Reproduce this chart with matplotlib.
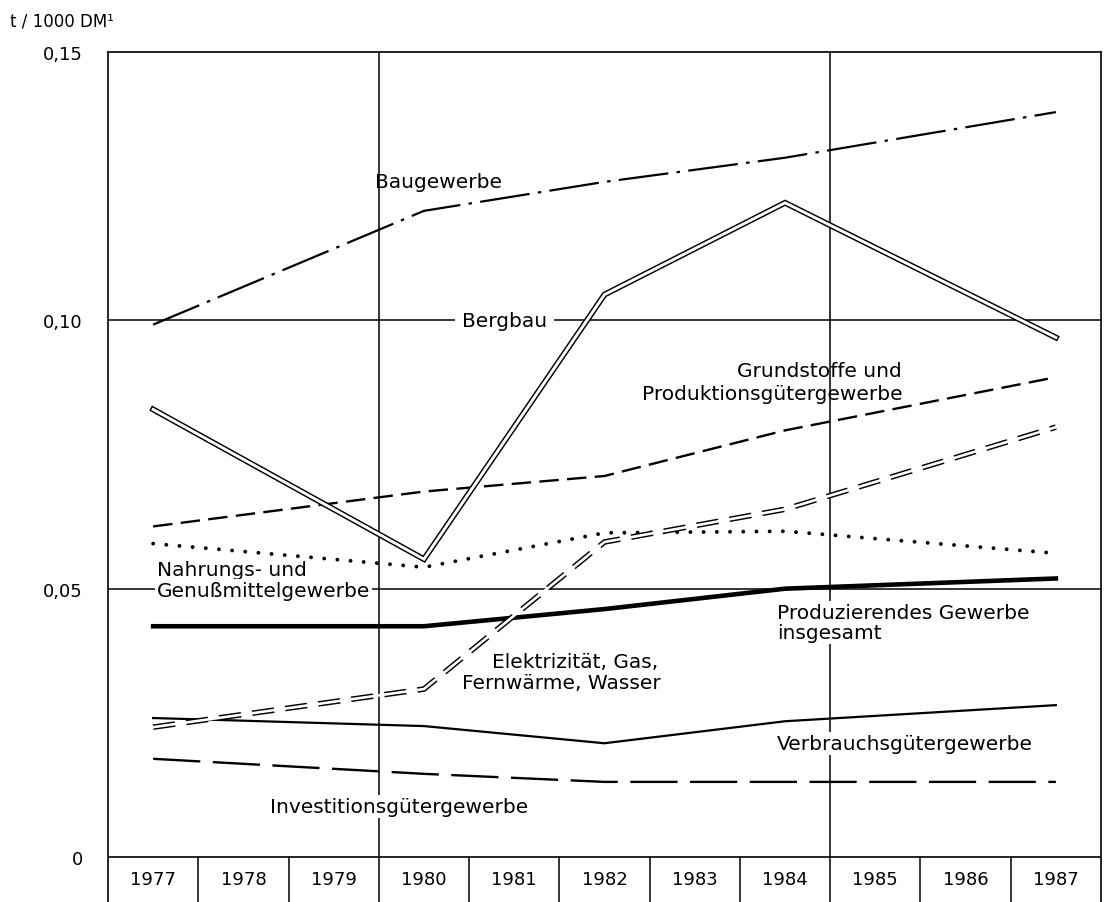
import matplotlib
matplotlib.use("Agg")
import matplotlib.pyplot as plt

plt.rcParams['font.family'] = ['DejaVu Sans']
plt.rcParams['lines.scale_dashes'] = False

# ---- data ----
years = [1977, 1980, 1982, 1984, 1987]
year_labels = [1977, 1978, 1979, 1980, 1981, 1982, 1983, 1984, 1985, 1986, 1987]
baugewerbe = [0.0992, 0.1204, 0.1258, 0.1303, 0.1388]
bergbau = [0.0834, 0.0555, 0.1048, 0.1219, 0.0968]
grundstoffe = [0.0616, 0.0681, 0.0710, 0.0795, 0.0894]
nahrung = [0.0584, 0.0540, 0.0604, 0.0607, 0.0566]
elektrizitaet = [0.0242, 0.0313, 0.0587, 0.0648, 0.0801]
insgesamt = [0.0430, 0.0430, 0.0462, 0.0500, 0.0519]
verbrauch = [0.0259, 0.0244, 0.0212, 0.0253, 0.0283]
investition = [0.0183, 0.0155, 0.0140, 0.0140, 0.0140]
ytick_vals = [0, 0.05, 0.10, 0.15]
ytick_labels = ['0', '0,05', '0,10', '0,15']

W, H = 1111, 903
fig = plt.figure(figsize=(W / 100, H / 100), dpi=100)
ax = fig.add_axes([108 / W, 0, (1101 - 108) / W, (903 - 53) / H])
ymin = -0.00838
ax.set_xlim(1976.5, 1987.5)
ax.set_ylim(ymin, 0.15)

for s in ['left', 'right', 'top']:
    ax.spines[s].set_linewidth(1.2)
ax.spines['bottom'].set_visible(False)

ax.set_xticks([])
ax.set_yticks(ytick_vals)
ax.set_yticklabels(ytick_labels, fontsize=13)
ax.tick_params(axis='y', length=0, pad=18)

# grid lines
for v in [0.05, 0.10]:
    ax.axhline(v, color='black', lw=1.1, zorder=1)
ax.axhline(0, color='black', lw=1.2, zorder=1)
for xb in [1979.5, 1984.5]:
    ax.plot([xb, xb], [0, 0.15], color='black', lw=1.1, zorder=1)
# year boxes
for y in year_labels[:-1]:
    ax.plot([y + 0.5, y + 0.5], [ymin, 0], color='black', lw=1.1, zorder=1)
for y in year_labels:
    ax.text(y, -0.0041, str(y), ha='center', va='center', fontsize=13)

# ---- series ----
# Baugewerbe: dash-dot
ax.plot(years, baugewerbe, color='black', lw=1.6,
        linestyle=(0, (36, 6, 2.5, 6)), zorder=3)
# Bergbau: double solid line
ax.plot(years, bergbau, color='black', lw=4.2, solid_joinstyle='miter', zorder=3)
ax.plot(years, bergbau, color='white', lw=2.1, solid_joinstyle='miter', zorder=3.1)
# Grundstoffe: dashed
ax.plot(years, grundstoffe, color='black', lw=1.7,
        linestyle=(0, (14, 6)), zorder=3)
# Nahrungs: dotted
ax.plot(years, nahrung, color='black', lw=2.8,
        linestyle=(0, (0.01, 9.5)), dash_capstyle='round', zorder=3)
# Elektrizitaet: double dashed
ax.plot(years, elektrizitaet, color='black', lw=4.0,
        linestyle=(0, (16, 8)), dash_joinstyle='miter', zorder=3.2)
ax.plot(years, elektrizitaet, color='white', lw=1.9, zorder=3.3)
# Produzierendes Gewerbe insgesamt: thick
ax.plot(years, insgesamt, color='black', lw=3.3, zorder=3)
# Verbrauchsgueter: thin solid
ax.plot(years, verbrauch, color='black', lw=1.6, zorder=3)
# Investitionsgueter: long dashes
ax.plot(years, investition, color='black', lw=1.7,
        linestyle=(0, (34, 9)), zorder=3)

# ---- labels ----
fs = 14.5
wb = dict(facecolor='white', edgecolor='none', pad=1.5)
ax.text(1979.46, 0.1258, 'Baugewerbe', fontsize=fs, va='center', ha='left', zorder=4)
ax.text(1980.42, 0.100, 'Bergbau', fontsize=fs, va='center', ha='left', zorder=4,
        bbox=dict(facecolor='white', edgecolor='none', pad=5))
ax.text(1983.47, 0.0906, 'Grundstoffe und', fontsize=fs, va='center', ha='left', zorder=4)
ax.text(1982.42, 0.0863, 'Produktionsgütergewerbe', fontsize=fs, va='center', ha='left', zorder=4)
ax.text(1977.04, 0.0535, 'Nahrungs- und', fontsize=fs, va='center', ha='left', zorder=4)
ax.text(1977.04, 0.0497, 'Genußmittelgewerbe', fontsize=fs, va='center', ha='left', zorder=4,
        bbox=wb)
ax.text(1983.91, 0.0456, 'Produzierendes Gewerbe', fontsize=fs, va='center', ha='left',
        zorder=4, bbox=wb)
ax.text(1983.91, 0.0419, 'insgesamt', fontsize=fs, va='center', ha='left', zorder=4, bbox=wb)
ax.text(1980.75, 0.0365, 'Elektrizität, Gas,', fontsize=fs, va='center', ha='left', zorder=4)
ax.text(1980.42, 0.0326, 'Fernwärme, Wasser', fontsize=fs, va='center', ha='left', zorder=4)
ax.text(1983.91, 0.0212, 'Verbrauchsgütergewerbe', fontsize=fs, va='center', ha='left',
        zorder=4, bbox=wb)
ax.text(1978.29, 0.0095, 'Investitionsgütergewerbe', fontsize=fs, va='center', ha='left',
        zorder=4, bbox=wb)

fig.text(10 / W, 1 - 22 / H, 't / 1000 DM¹', fontsize=12, va='center', ha='left')

fig.savefig('out.png', dpi=100)
